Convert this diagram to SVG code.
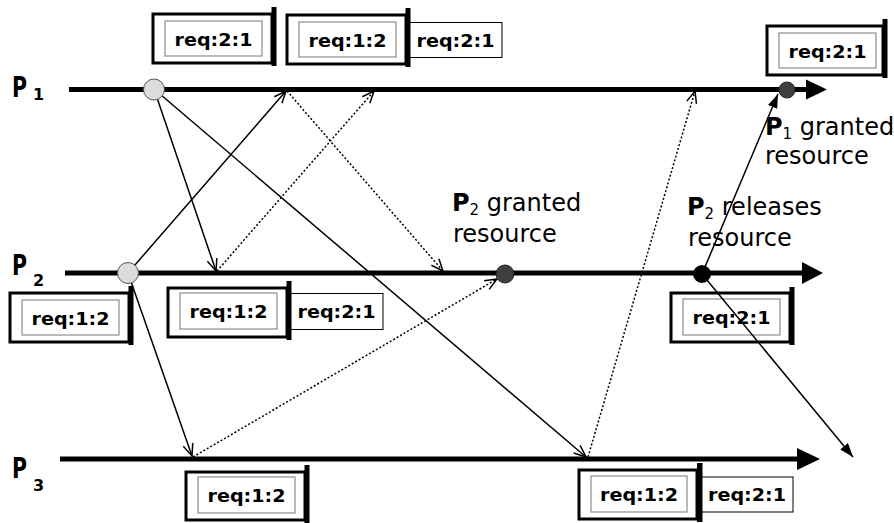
<svg xmlns="http://www.w3.org/2000/svg" width="894" height="523" viewBox="0 0 894 523">
  <style>
    .lifeline { stroke: #000; stroke-width: 5; }
    .head { fill: #000; }
    .msg { stroke: #000; stroke-width: 1.5; fill: none; }
    .dot { stroke-dasharray: 2 2; }
    .outer { fill: #fff; stroke: #000; stroke-width: 3; }
    .inner { fill: none; stroke: #777; stroke-width: 1; }
    .slot { fill: #fff; stroke: #000; stroke-width: 1; }
    .bar { fill: #000; }
    .q { font-family: "DejaVu Sans", "Liberation Sans", sans-serif; font-weight: bold; font-size: 18px; text-anchor: middle; fill: #000; }
    .lbl { font-family: "DejaVu Sans", "Liberation Sans", sans-serif; font-size: 24px; fill: #000; }
    .pn { font-family: "DejaVu Sans", "Liberation Sans", sans-serif; font-weight: bold; fill: #000; }
    .req { fill: #dcdcdc; stroke: #555; stroke-width: 1; }
    .grant { fill: #404040; stroke: #222; stroke-width: 1; }
    .rel { fill: #000; }
  </style>
  <defs>
    <marker id="open" markerUnits="userSpaceOnUse" markerWidth="14" markerHeight="12" viewBox="0 0 14 12" refX="13" refY="6" orient="auto">
      <path d="M1,1 L13,6 L1,11" fill="none" stroke="#000" stroke-width="1.5"/>
    </marker>
    <marker id="solid" markerUnits="userSpaceOnUse" markerWidth="14" markerHeight="10" viewBox="0 0 14 10" refX="14" refY="5" orient="auto">
      <path d="M0,0 L14,5 L0,10 z" fill="#000"/>
    </marker>
  </defs>

  <!-- process time lines -->
  <g id="lifelines">
    <line class="lifeline" x1="69" y1="89.5" x2="810" y2="89.5"/>
    <polygon class="head" points="806,79.5 827,89.5 806,99.5"/>
    <line class="lifeline" x1="65" y1="273" x2="806" y2="273"/>
    <polygon class="head" points="802,262 823,273 802,284"/>
    <line class="lifeline" x1="60" y1="459" x2="800" y2="459"/>
    <polygon class="head" points="797,448 820,459 797,470"/>
  </g>

  <!-- process names -->
  <g id="p1-name"><text class="pn" x="12" y="97" font-size="28" textLength="15" lengthAdjust="spacingAndGlyphs">P</text><text class="pn" x="33" y="100" font-size="16">1</text></g>
  <g id="p2-name"><text class="pn" x="12" y="275" font-size="28" textLength="15" lengthAdjust="spacingAndGlyphs">P</text><text class="pn" x="33" y="286" font-size="16">2</text></g>
  <g id="p3-name"><text class="pn" x="12" y="478" font-size="28" textLength="15" lengthAdjust="spacingAndGlyphs">P</text><text class="pn" x="33" y="491" font-size="16">3</text></g>

  <!-- request queues -->
  <g id="q-p1-a" transform="translate(153,14)">
    <rect class="outer" x="0" y="0" width="119" height="49"/>
    <rect class="inner" x="12" y="7" width="97" height="35"/>
    <rect class="bar" x="118.5" y="-7" width="5" height="59"/>
    <text class="q" x="60.5" y="32" textLength="78" lengthAdjust="spacingAndGlyphs">req:2:1</text>
  </g>
  <g id="q-p1-b" transform="translate(287,15)">
    <rect class="outer" x="0" y="0" width="119" height="49"/>
    <rect class="inner" x="12" y="7" width="97" height="35"/>
    <rect class="slot" x="122" y="7.5" width="93" height="35"/>
    <rect class="bar" x="118.5" y="-7" width="5" height="59"/>
    <text class="q" x="60.5" y="32" textLength="78" lengthAdjust="spacingAndGlyphs">req:1:2</text>
    <text class="q" x="168.5" y="32" textLength="78" lengthAdjust="spacingAndGlyphs">req:2:1</text>
  </g>
  <g id="q-p1-c" transform="translate(767,26)">
    <rect class="outer" x="0" y="0" width="116" height="49"/>
    <rect class="inner" x="12" y="7" width="97" height="35"/>
    <rect class="bar" x="115.5" y="-7" width="5" height="59"/>
    <text class="q" x="60.5" y="32" textLength="78" lengthAdjust="spacingAndGlyphs">req:2:1</text>
  </g>
  <g id="q-p2-a" transform="translate(10,293)">
    <rect class="outer" x="0" y="0" width="119" height="49"/>
    <rect class="inner" x="12" y="7" width="97" height="35"/>
    <rect class="bar" x="118.5" y="-7" width="5" height="59"/>
    <text class="q" x="60.5" y="32" textLength="78" lengthAdjust="spacingAndGlyphs">req:1:2</text>
  </g>
  <g id="q-p2-b" transform="translate(168,288)">
    <rect class="outer" x="0" y="0" width="119" height="49"/>
    <rect class="inner" x="12" y="5" width="97" height="36"/>
    <rect class="slot" x="122" y="5.5" width="93" height="36"/>
    <rect class="bar" x="118.5" y="-7" width="5" height="59"/>
    <text class="q" x="60.5" y="30" textLength="78" lengthAdjust="spacingAndGlyphs">req:1:2</text>
    <text class="q" x="168.5" y="30" textLength="78" lengthAdjust="spacingAndGlyphs">req:2:1</text>
  </g>
  <g id="q-p2-c" transform="translate(671,293)">
    <rect class="outer" x="0" y="0" width="119" height="49"/>
    <rect class="inner" x="12" y="6" width="97" height="36"/>
    <rect class="bar" x="118.5" y="-6" width="5" height="58"/>
    <text class="q" x="60.5" y="31" textLength="78" lengthAdjust="spacingAndGlyphs">req:2:1</text>
  </g>
  <g id="q-p3-a" transform="translate(186,472)">
    <rect class="outer" x="0" y="0" width="119" height="48"/>
    <rect class="inner" x="12" y="5" width="97" height="36"/>
    <rect class="bar" x="118.5" y="-7" width="5" height="58"/>
    <text class="q" x="60.5" y="30" textLength="78" lengthAdjust="spacingAndGlyphs">req:1:2</text>
  </g>
  <g id="q-p3-b" transform="translate(579,470)">
    <rect class="outer" x="0" y="0" width="118" height="49"/>
    <rect class="inner" x="12" y="6" width="96" height="36"/>
    <rect class="slot" x="122" y="7" width="92" height="35"/>
    <rect class="bar" x="118" y="-7" width="5.5" height="59"/>
    <text class="q" x="60" y="31" textLength="78" lengthAdjust="spacingAndGlyphs">req:1:2</text>
    <text class="q" x="168" y="31" textLength="78" lengthAdjust="spacingAndGlyphs">req:2:1</text>
  </g>

  <!-- messages -->
  <g id="connectors">
    <line class="msg" x1="154" y1="89" x2="216" y2="271" marker-end="url(#open)"/>
    <line class="msg" x1="154" y1="89" x2="586" y2="457" marker-end="url(#open)"/>
    <line class="msg" x1="128" y1="273" x2="286" y2="91" marker-end="url(#open)"/>
    <line class="msg" x1="128" y1="273" x2="192" y2="456" marker-end="url(#open)"/>
    <line class="msg dot" x1="287" y1="91" x2="443" y2="271" marker-end="url(#open)"/>
    <line class="msg dot" x1="217" y1="271" x2="374" y2="91" marker-end="url(#open)"/>
    <line class="msg dot" x1="193" y1="457" x2="497" y2="279" marker-end="url(#open)"/>
    <line class="msg dot" x1="588" y1="457" x2="695" y2="91" marker-end="url(#open)"/>
    <line class="msg" x1="702" y1="274" x2="778" y2="94" marker-end="url(#solid)"/>
    <line class="msg" x1="702" y1="274" x2="853" y2="457" marker-end="url(#solid)"/>
  </g>

  <!-- events -->
  <g id="ev-p1-request"><circle class="req" cx="154" cy="89.5" r="10.5"/></g>
  <g id="ev-p2-request"><circle class="req" cx="128" cy="273" r="10.5"/></g>
  <g id="ev-p2-grant"><circle class="grant" cx="505" cy="274" r="9"/></g>
  <g id="ev-p2-release"><circle class="rel" cx="702" cy="274" r="9"/></g>
  <g id="ev-p1-grant"><circle class="grant" cx="787" cy="90" r="8"/></g>

  <!-- annotations -->
  <g id="note-p2-granted">
    <text class="lbl" x="452" y="211"><tspan font-weight="bold">P</tspan><tspan font-size="15" dy="4">2</tspan><tspan dy="-4"> granted</tspan></text>
    <text class="lbl" x="453" y="242">resource</text>
  </g>
  <g id="note-p2-releases">
    <text class="lbl" x="687" y="215"><tspan font-weight="bold">P</tspan><tspan font-size="15" dy="4">2</tspan><tspan dy="-4"> releases</tspan></text>
    <text class="lbl" x="688" y="246">resource</text>
  </g>
  <g id="note-p1-granted">
    <text class="lbl" x="765" y="135"><tspan font-weight="bold">P</tspan><tspan font-size="15" dy="4">1</tspan><tspan dy="-4"> granted</tspan></text>
    <text class="lbl" x="765" y="164">resource</text>
  </g>
</svg>
